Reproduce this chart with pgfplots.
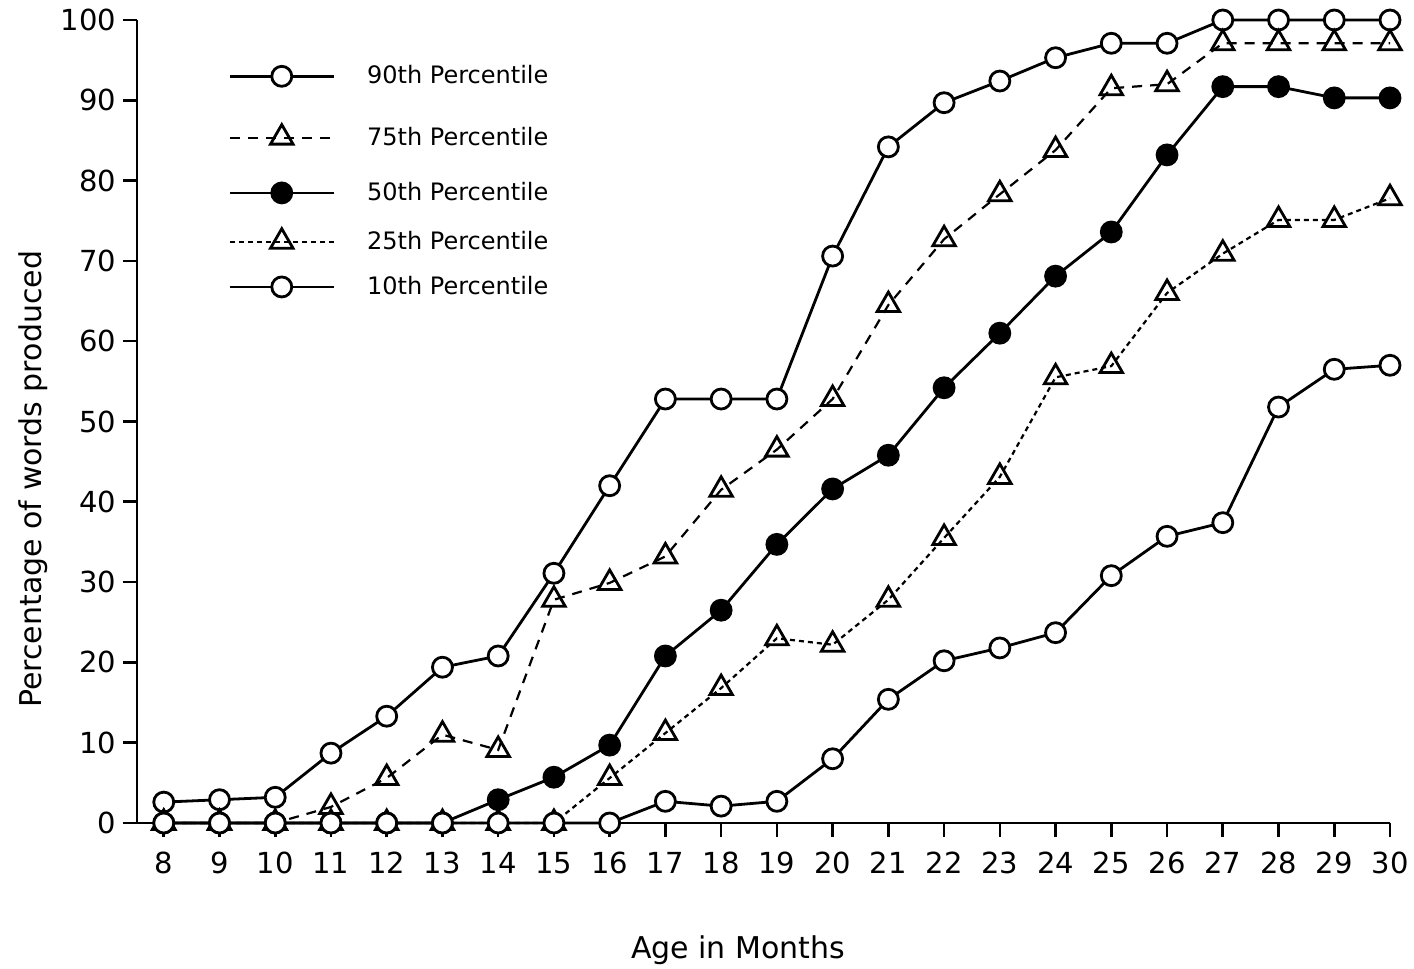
\documentclass[border=0pt]{standalone}
\usepackage{fontspec}
\setmainfont{DejaVu Sans}
\usepackage{pgfplots}
\pgfplotsset{compat=1.18}

% Percentage of words produced, by age, for five percentiles
\pgfplotstableread{
age  p90    p75    p50    p25    p10
8    2.6    0      0      0      0
9    2.9    0      0      0      0
10   3.2    0      0      0      0
11   8.7    2.0    0      0      0
12   13.3   5.6    0      0      0
13   19.4   11.0   0      0      0
14   20.8   9.1    2.9    0      0
15   31.1   27.8   5.7    0      0
16   42.0   29.9   9.7    5.6    0
17   52.8   33.2   20.8   11.2   2.7
18   52.8   41.5   26.5   16.8   2.1
19   52.8   46.5   34.7   23.0   2.7
20   70.6   52.8   41.6   22.2   8.0
21   84.2   64.5   45.8   27.8   15.4
22   89.7   72.7   54.2   35.5   20.2
23   92.4   78.3   61.0   43.1   21.8
24   95.3   83.8   68.1   55.5   23.7
25   97.1   91.5   73.6   56.9   30.8
26   97.1   92.0   83.2   66.0   35.7
27   100    97.1   91.7   70.9   37.4
28   100    97.1   91.7   75.1   51.8
29   100    97.1   90.3   75.1   56.5
30   100    97.1   90.3   77.8   57.0
}\vocab

% legend sample: a line with one mark in the middle; the argument sets
% how much vertical room the row of the legend takes
\pgfplotsset{
  legline/.style={legend image code/.code={%
    \draw[mark repeat=2, mark phase=2, ##1]
      plot coordinates {(0pt,0pt) (26pt,0pt) (52pt,0pt)};
    \path (0pt,-#1) (0pt,#1);}},
}

\begin{document}
\begin{tikzpicture}
\useasboundingbox (-68.5pt,-73pt) rectangle (638.5pt,411.5pt);
\begin{axis}[
  at={(0pt,0pt)}, anchor=south west,
  scale only axis,
  width=626.5pt, height=401.5pt,
  xmin=7.52, xmax=30, ymin=0, ymax=100,
  axis x line=bottom, axis y line=left,
  axis line style={-, line width=1.3pt},
  tick align=outside,
  major tick length=7pt,
  tick style={line width=1.3pt, black},
  xtick={8,...,30}, ytick={0,10,...,100},
  /pgf/number format/assume math mode=true,
  ticklabel style={font=\fontsize{14.5}{16}\selectfont},
  xticklabel style={yshift=-4pt},
  clip=false,
  xlabel={Age in Months},
  ylabel={Percentage of words produced},
  label style={font=\fontsize{15}{17}\selectfont},
  xlabel style={at={(axis description cs:0.4797,-0.158)}, anchor=center},
  ylabel style={at={(axis description cs:-0.083,0.428)}, anchor=center, rotate=0},
  legline=5pt,
  legend style={draw=none, fill=none, inner sep=0pt,
    at={(axis description cs:0.0726,0.9575)}, anchor=north west,
    font=\fontsize{12}{14}\selectfont,
    nodes={inner sep=1pt, anchor=west},
    row sep=10pt, column sep=15pt},
  legend cell align=left,
  every axis plot/.append style={black},
]
\addplot[legline=10.2pt, line width=1.4pt, mark=*, mark size=5pt,
  mark options={solid, fill=white, line width=1.4pt}]
  table[x=age, y=p90] {\vocab};
\addlegendentry{90th Percentile}
\addplot[legline=9.2pt, line width=1.1pt, dash pattern=on 5pt off 4pt, mark=triangle, mark size=6.5pt,
  mark options={solid, fill=white, line width=1.4pt}]
  table[x=age, y=p75] {\vocab};
\addlegendentry{75th Percentile}
\addplot[legline=7.2pt, line width=1.4pt, mark=*, mark size=5pt,
  mark options={solid, fill=black, line width=1.4pt}]
  table[x=age, y=p50] {\vocab};
\addlegendentry{50th Percentile}
\addplot[legline=5pt, line width=1.1pt, dash pattern=on 2.5pt off 2pt, mark=triangle, mark size=6.5pt,
  mark options={solid, fill=white, line width=1.4pt}]
  table[x=age, y=p25] {\vocab};
\addlegendentry{25th Percentile}
\addplot[legline=5pt, line width=1.4pt, mark=*, mark size=5pt,
  mark options={solid, fill=white, line width=1.4pt}]
  table[x=age, y=p10] {\vocab};
\addlegendentry{10th Percentile}
\end{axis}
\end{tikzpicture}
\end{document}
